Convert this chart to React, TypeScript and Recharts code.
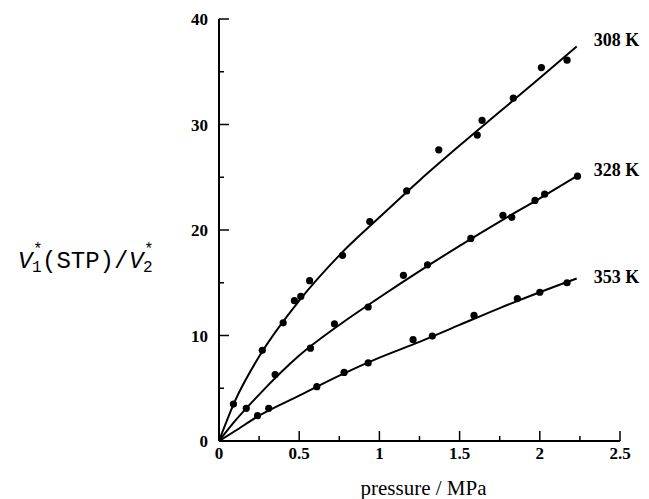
import { ComposedChart, Line, Scatter, XAxis, YAxis, Label } from "recharts"

// measured points, pressure (MPa) vs V1*(STP)/V2*
const p308 = [0.09, 0.27, 0.4, 0.47, 0.51, 0.565, 0.77, 0.94, 1.17, 1.37, 1.61, 1.64, 1.835, 2.01, 2.17]
const v308 = [3.5, 8.6, 11.2, 13.3, 13.7, 15.2, 17.6, 20.8, 23.7, 27.6, 29.0, 30.4, 32.5, 35.4, 36.1]

const p328 = [0.17, 0.35, 0.57, 0.72, 0.93, 1.15, 1.3, 1.57, 1.77, 1.825, 1.97, 2.03, 2.235]
const v328 = [3.1, 6.3, 8.8, 11.1, 12.7, 15.7, 16.7, 19.2, 21.4, 21.2, 22.8, 23.4, 25.1]

const p353 = [0.24, 0.31, 0.61, 0.78, 0.93, 1.21, 1.33, 1.59, 1.86, 2.0, 2.17]
const v353 = [2.4, 3.1, 5.15, 6.5, 7.4, 9.6, 9.95, 11.9, 13.5, 14.1, 15.0]

// fitted curves
const fitP = [0, 0.1, 0.25, 0.5, 0.75, 1, 1.25, 1.5, 1.75, 2, 2.23]
const fit308 = [0, 3.8, 8.0, 13.3, 17.6, 21.2, 24.7, 28.0, 31.2, 34.4, 37.4]
const fit328 = [0, 1.9, 4.4, 8.1, 11.0, 13.6, 16.1, 18.5, 20.8, 23.0, 25.1]
const fit353 = [0, 0.95, 2.4, 4.3, 6.2, 7.9, 9.4, 11.0, 12.6, 14.1, 15.4]

const seriesNames = ["308 K", "328 K", "353 K"]

const xTicks = [0, 0.25, 0.5, 0.75, 1, 1.25, 1.5, 1.75, 2, 2.25, 2.5]
const yTicks = [0, 5, 10, 15, 20, 25, 30, 35, 40]

const toPts = (xs: number[], ys: number[]) => xs.map((x, i) => ({ x, y: ys[i] }))

const series = [
  { name: seriesNames[0], pts: toPts(p308, v308), fit: toPts(fitP, fit308), dy: 0 },
  { name: seriesNames[1], pts: toPts(p328, v328), fit: toPts(fitP, fit328), dy: 0 },
  { name: seriesNames[2], pts: toPts(p353, v353), fit: toPts(fitP, fit353), dy: 4 },
]

const serif = "Liberation Serif, serif"
const mono = "Liberation Mono, monospace"

function XTick({ x, y, payload }: any) {
  const v = payload.value
  const major = Math.abs(v * 2 - Math.round(v * 2)) < 1e-6
  return (
    <g>
      <line x1={x} x2={x} y1={y} y2={y - (major ? 10 : 5)} stroke="#000" strokeWidth={1.5} />
      {major && (
        <text x={x} y={y + 18} textAnchor="middle" style={{ fontFamily: serif, fontWeight: 700, fontSize: 17 }} fill="#000">
          {v}
        </text>
      )}
    </g>
  )
}

function YTick({ x, y, payload }: any) {
  const v = payload.value
  const major = v % 10 === 0
  return (
    <g>
      <line x1={x} x2={x + (major ? 10 : 5)} y1={y} y2={y} stroke="#000" strokeWidth={1.5} />
      {major && (
        <text x={x - 11} y={y + 6} textAnchor="end" style={{ fontFamily: serif, fontWeight: 700, fontSize: 17 }} fill="#000">
          {v}
        </text>
      )}
    </g>
  )
}

const Dot = (props: any) => <circle cx={props.cx} cy={props.cy} r={3.6} fill="#000" />

function YTitle({ viewBox }: any) {
  const x0 = viewBox.x - 161
  const base = viewBox.y + 249
  const big = { fontFamily: mono, fontSize: 24 }
  const small = { fontFamily: mono, fontSize: 16 }
  return (
    <g fill="#000">
      <text x={x0} y={base} style={{ ...big, fontStyle: "italic" }}>V</text>
      <text x={x0 + 14} y={base + 4} style={small}>1</text>
      <text x={x0 + 15} y={base - 14} style={small}>*</text>
      <text x={x0 + 24} y={base} style={big}>(STP)/</text>
      <text x={x0 + 111} y={base} style={{ ...big, fontStyle: "italic" }}>V</text>
      <text x={x0 + 125} y={base + 4} style={small}>2</text>
      <text x={x0 + 126} y={base - 14} style={small}>*</text>
    </g>
  )
}

function XTitle({ viewBox }: any) {
  return (
    <text
      x={viewBox.x + viewBox.width / 2 + 4}
      y={viewBox.y + 54}
      textAnchor="middle"
      style={{ fontFamily: serif, fontSize: 21 }}
      fill="#000"
    >
      pressure / MPa
    </text>
  )
}

export default function App() {
  return (
    <div style={{ position: "absolute", left: 0, top: 0, background: "#fff" }}>
      <ComposedChart width={649} height={499} margin={{ top: 19, right: 29, bottom: 28, left: 179 }}>
        <XAxis
          type="number"
          dataKey="x"
          domain={[0, 2.5]}
          ticks={xTicks}
          interval={0}
          height={30}
          tickSize={0}
          tickMargin={0}
          tickLine={false}
          axisLine={{ stroke: "#000", strokeWidth: 2 }}
          tick={<XTick />}
        >
          <Label content={(p: any) => <XTitle viewBox={p.viewBox} />} />
        </XAxis>
        <YAxis
          type="number"
          dataKey="y"
          domain={[0, 40]}
          ticks={yTicks}
          interval={0}
          width={40}
          tickSize={0}
          tickMargin={0}
          tickLine={false}
          axisLine={{ stroke: "#000", strokeWidth: 2 }}
          tick={<YTick />}
        >
          <Label content={(p: any) => <YTitle viewBox={p.viewBox} />} />
        </YAxis>
        {series.map((s) => (
          <Line
            key={s.name + "-fit"}
            data={s.fit}
            dataKey="y"
            type="monotone"
            stroke="#000"
            strokeWidth={2}
            dot={false}
            activeDot={false}
            isAnimationActive={false}
            label={(p: any) =>
              p.index === s.fit.length - 1 ? (
                <text
                  key={s.name + "-lbl"}
                  x={p.x + 17}
                  y={p.y + s.dy}
                  style={{ fontFamily: serif, fontWeight: 700, fontSize: 18 }}
                  fill="#000"
                >
                  {s.name}
                </text>
              ) : (
                <g key={s.name + "-n" + p.index} />
              )
            }
          />
        ))}
        {series.map((s) => (
          <Scatter key={s.name + "-pts"} data={s.pts} shape={<Dot />} isAnimationActive={false} />
        ))}
      </ComposedChart>
    </div>
  )
}
